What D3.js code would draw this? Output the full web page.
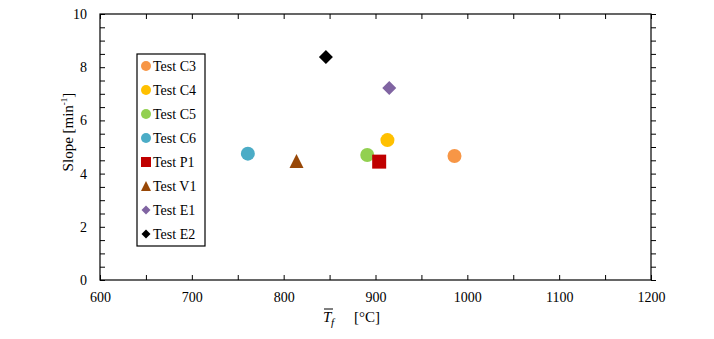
<!DOCTYPE html>
<html>
<head>
<meta charset="utf-8">
<script src="https://cdn.jsdelivr.net/npm/d3@7"></script>
<style>
  body { margin: 0; background: #fff; }
  svg text { font-family: "Liberation Serif", "Times New Roman", serif; fill: #000; }
</style>
</head>
<body>
<div id="chart"></div>
<script>
// data
var tests = ["Test C3", "Test C4", "Test C5", "Test C6", "Test P1", "Test V1", "Test E1", "Test E2"];
var tempF = [986, 913, 891, 761, 904, 814, 915, 846];
var slope = [4.66, 5.26, 4.70, 4.75, 4.45, 4.47, 7.22, 8.38];
var shapes = ["circle", "circle", "circle", "circle", "square", "triangle", "diamond", "diamond"];
var colors = ["#F79646", "#FFC000", "#92D050", "#4BACC6", "#C00000", "#984807", "#8064A2", "#000000"];
var xTicks = [600, 700, 800, 900, 1000, 1100, 1200];
var yTicks = [0, 2, 4, 6, 8, 10];

var width = 714, height = 339;
var margin = {left: 100, top: 14, right: 63, bottom: 59};

var svg = d3.select("#chart").append("svg")
  .attr("width", width)
  .attr("height", height);

var x = d3.scaleLinear().domain([600, 1200]).range([margin.left, width - margin.right]);
var y = d3.scaleLinear().domain([0, 10]).range([height - margin.bottom, margin.top]);

// marker path, s = half size
function markerPath(shape, s) {
  if (shape == "square") return "M" + (-s) + "," + (-s) + "h" + (2*s) + "v" + (2*s) + "h" + (-2*s) + "Z";
  if (shape == "triangle") return "M0," + (-s) + "L" + s + "," + s + "L" + (-s) + "," + s + "Z";
  if (shape == "diamond") return "M0," + (-s) + "L" + s + ",0L0," + s + "L" + (-s) + ",0Z";
  return d3.symbol(d3.symbolCircle, Math.PI * s * s)();
}

// minor ticks every 50 / 0.5
var xMinor = d3.range(600, 1201, 50);
var yMinor = d3.range(0, 10.01, 0.5);

var xAxis = svg.append("g")
  .attr("transform", "translate(0," + y(0) + ")")
  .call(d3.axisBottom(x).tickValues(xMinor).tickSize(-5).tickPadding(12)
    .tickFormat(function(d) { return xTicks.indexOf(d) >= 0 ? d : ""; }));

var xTop = svg.append("g")
  .attr("transform", "translate(0," + y(10) + ")")
  .call(d3.axisTop(x).tickValues(xMinor).tickSize(-5).tickFormat(""));

var yAxis = svg.append("g")
  .attr("transform", "translate(" + x(600) + ",0)")
  .call(d3.axisLeft(y).tickValues(yMinor).tickSize(-5).tickPadding(13)
    .tickFormat(function(d) { return yTicks.indexOf(d) >= 0 ? d : ""; }));

var yRight = svg.append("g")
  .attr("transform", "translate(" + x(1200) + ",0)")
  .call(d3.axisRight(y).tickValues(yMinor).tickSize(5).tickFormat(""));

svg.selectAll(".domain").remove();
svg.selectAll(".tick line").attr("stroke", "#000");
svg.selectAll(".tick text").style("font-size", "14px")
  .style("font-family", "'Liberation Serif', 'Times New Roman', serif");

svg.append("rect")
  .attr("x", x(600))
  .attr("y", y(10))
  .attr("width", x(1200) - x(600))
  .attr("height", y(0) - y(10))
  .attr("fill", "none")
  .attr("stroke", "#000")
  .attr("stroke-width", 1.2);

// axis titles
var xt = svg.append("g");
xt.append("text")
  .attr("x", 323).attr("y", 322)
  .style("font-size", "15px").style("font-style", "italic")
  .text("T");
xt.append("line")
  .attr("x1", 324).attr("x2", 333)
  .attr("y1", 309).attr("y2", 309)
  .attr("stroke", "#000").attr("stroke-width", 1);
xt.append("text")
  .attr("x", 331).attr("y", 326)
  .style("font-size", "11px").style("font-style", "italic")
  .text("f");
xt.append("text")
  .attr("x", 354).attr("y", 322)
  .style("font-size", "15px")
  .text("[°C]");

var yt = svg.append("text")
  .attr("transform", "translate(73,132) rotate(-90)")
  .attr("text-anchor", "middle")
  .style("font-size", "15px");
yt.append("tspan").text("Slope [min");
yt.append("tspan").attr("dy", -6).style("font-size", "9px").text("-1");
yt.append("tspan").attr("dy", 6).text("]");

// points
svg.append("g").selectAll("path")
  .data(tests)
  .join("path")
  .attr("d", function(d, i) { return markerPath(shapes[i], 7); })
  .attr("transform", function(d, i) { return "translate(" + x(tempF[i]) + "," + y(slope[i]) + ")"; })
  .attr("fill", function(d, i) { return colors[i]; });

// legend
var legend = svg.append("g");
legend.append("rect")
  .attr("x", 137).attr("y", 54)
  .attr("width", 68).attr("height", 192)
  .attr("fill", "#fff")
  .attr("stroke", "#000")
  .attr("stroke-width", 1.2);

var item = legend.selectAll("g.item")
  .data(tests)
  .join("g")
  .attr("class", "item")
  .attr("transform", function(d, i) { return "translate(146," + (66 + 24 * i) + ")"; });
item.append("path")
  .attr("d", function(d, i) { return markerPath(shapes[i], shapes[i] == "diamond" ? 4.5 : 5); })
  .attr("fill", function(d, i) { return colors[i]; });
item.append("text")
  .attr("x", 7)
  .attr("dy", "0.35em")
  .style("font-size", "14px")
  .text(function(d) { return d; });
</script>
</body>
</html>
